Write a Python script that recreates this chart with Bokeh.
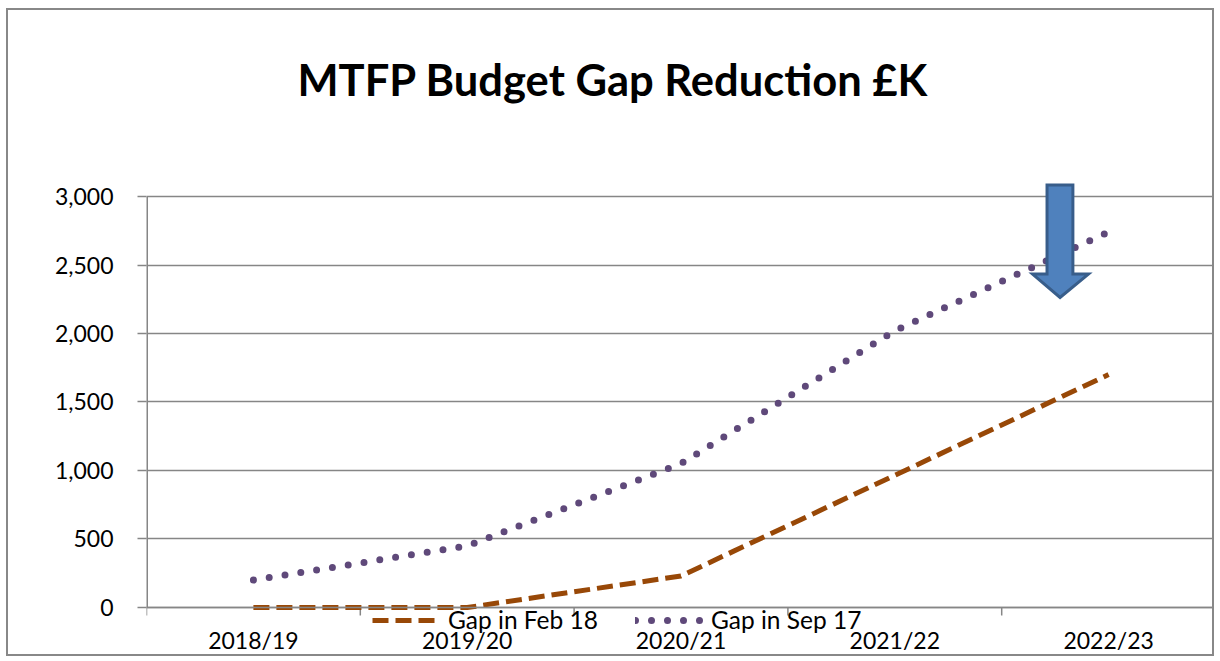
from math import pi
from bokeh.plotting import figure
from bokeh.models import (Range1d, FixedTicker, NumeralTickFormatter, Legend, LegendItem, Span)
from bokeh.core.properties import value
from bokeh.embed import file_html
from bokeh.resources import INLINE

# ---- data ----
years = ["2018/19", "2019/20", "2020/21", "2021/22", "2022/23"]
gap_feb18 = [0, 0, 230, 965, 1700]
gap_sep17 = [200, 450, 1050, 2020, 2740]
y_ticks = [0, 500, 1000, 1500, 2000, 2500, 3000]
title_text = "MTFP Budget Gap Reduction £K"

# block arrow shape (data units: category index, value)
arrow_xs = [4.212, 4.333, 4.333, 4.406, 4.273, 4.144, 4.212]
arrow_ys = [3084, 3084, 2434, 2434, 2263, 2434, 2434]

FONT = "Lato"
GRID = "#868686"

xc = [i + 0.5 for i in range(len(years))]
bounds = list(range(len(years) + 1))

# frame spans the whole canvas height (y 10..658); value 0 at y=607, 3000 at y=196
p = figure(width=1208, height=648, output_backend="svg", toolbar_location=None,
           x_range=Range1d(0, len(years)), y_range=Range1d(-372.3, 4357.7),
           x_axis_location=None,
           min_border_left=138, min_border_right=1, min_border_top=0, min_border_bottom=0)
p.styles = {"border": "2px solid #888888", "margin-left": "6px", "margin-top": "8px"}
p.outline_line_color = None
p.background_fill_color = "white"
p.border_fill_color = "white"

# y axis (line drawn separately so it spans only 0..3000)
p.yaxis.ticker = FixedTicker(ticks=y_ticks)
p.yaxis.formatter = NumeralTickFormatter(format="0,0")
p.yaxis.axis_line_color = None
p.yaxis.major_tick_line_color = GRID
p.yaxis.major_tick_line_width = 1.5
p.yaxis.major_tick_out = 9
p.yaxis.major_tick_in = 0
p.yaxis.minor_tick_line_color = None
p.yaxis.major_label_standoff = 24
p.yaxis.major_label_text_font = FONT
p.yaxis.major_label_text_font_size = "23px"
p.yaxis.major_label_text_color = "#000000"

p.xgrid.grid_line_color = None
p.ygrid.ticker = FixedTicker(ticks=y_ticks)
p.ygrid.grid_line_color = GRID
p.ygrid.grid_line_width = 1.5

# axis lines
p.segment(x0=[p.x_range.start], y0=[y_ticks[0]], x1=[p.x_range.start], y1=[y_ticks[-1]],
          line_color=GRID, line_width=3)
p.add_layout(Span(location=y_ticks[0], dimension="width", line_color=GRID, line_width=1.5))
# category boundary ticks (8 px, pointing down)
p.ray(x=bounds, y=[y_ticks[0]] * len(bounds), length=8, length_units="screen",
      angle=-pi / 2, line_color=GRID, line_width=1.5)
# category labels
p.text(x=xc, y=[y_ticks[0]] * len(xc), text=years, y_offset=33,
       text_font=value(FONT), text_font_size="23px", text_color="#000000",
       text_align="center", text_baseline="middle")

r_feb = p.line(xc, gap_feb18, line_color="#984807", line_width=5, line_dash="16 7")
r_sep = p.line(xc, gap_sep17, line_color="#5F497A", line_width=7, line_dash="0 16",
               line_cap="round")

legend = Legend(items=[LegendItem(label="Gap in Feb 18", renderers=[r_feb]),
                       LegendItem(label="Gap in Sep 17", renderers=[r_sep])],
                orientation="horizontal", location=(226, 24),
                glyph_width=68, glyph_height=14, label_height=14, label_standoff=8,
                spacing=37, padding=0, margin=0,
                border_line_color=None, background_fill_alpha=0,
                label_text_font=FONT, label_text_font_size="24.5px", label_text_color="#000000")
p.add_layout(legend)

p.patch(arrow_xs, arrow_ys, fill_color="#4F81BD", line_color="#385D8A", line_width=3,
        line_join="miter")

# chart title
p.text(x=[p.x_range.end / 2], y=[y_ticks[-1]], text=[title_text], x_offset=-68, y_offset=-118,
       text_font=value(FONT), text_font_style="bold", text_font_size="43.5px",
       text_color="#000000", text_align="center", text_baseline="alphabetic")

open("out.html", "w").write(file_html(p, INLINE))
